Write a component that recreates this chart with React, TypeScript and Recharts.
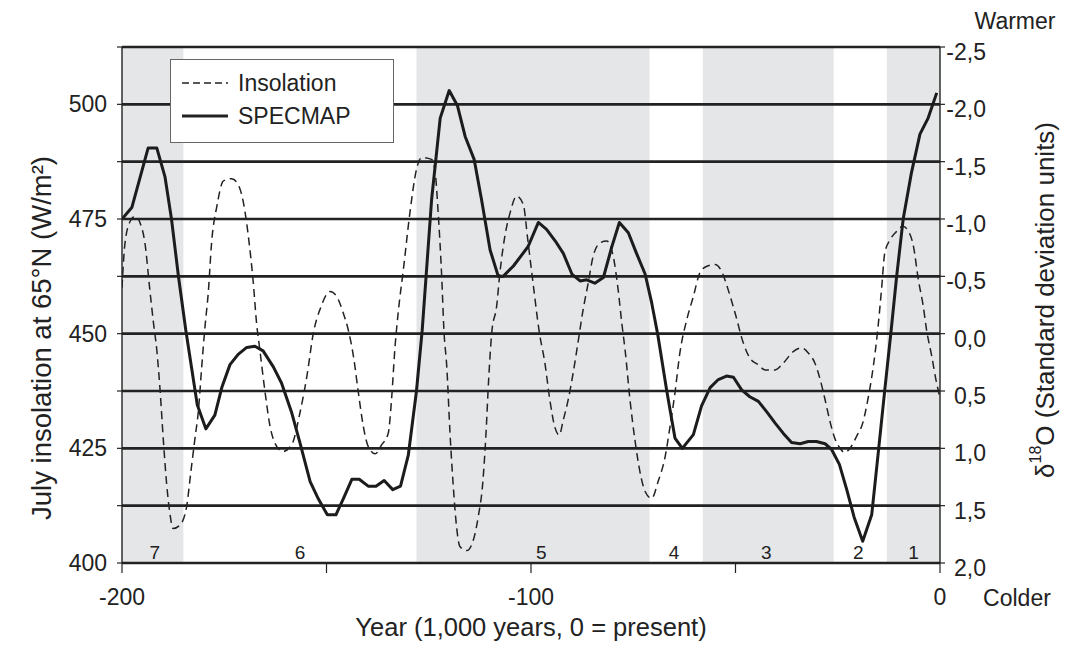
import React from "react";
import {
  ComposedChart,
  Line,
  XAxis,
  YAxis,
  ReferenceArea,
  ReferenceLine,
  Legend,
} from "recharts";

const FONT = "'Liberation Sans', Arial, Helvetica, sans-serif";
const INK = "#222";
const TICK_SIZE = 23;
const TITLE_SIZE = 25.5;

// Marine isotope stages, kyr (0 = present)
const stageNames = ["7", "6", "5", "4", "3", "2", "1"];
const stageStarts = [-200, -185, -128, -71, -58, -26, -13];
const stageEnds = [-185, -128, -71, -58, -26, -13, 0];
const stageShaded = [true, false, true, false, true, false, true];
const stageLabelAt = [-192, -156.5, -97.5, -65, -42.5, -20, -6.5];

// July insolation at 65°N, W/m²
const insolationYears = [
  -200, -199.3, -198, -196.8, -195.6, -194.4, -193.2, -192.3, -191.5, -190.7,
  -189.9, -189.1, -188.3, -187.5, -185.8, -184.2, -183.2, -182.2, -181.3, -180.5,
  -179.7, -178.9, -178.1, -176.8, -175.2, -173.2, -171.6, -170.3, -169.1, -167.9,
  -167.1, -166.3, -165.0, -163.8, -162.6, -160.7, -158.5, -156.5, -154.8, -153.2,
  -151.5, -149.1, -147.5, -145.9, -144.7, -143.4, -142.2, -141.0, -139.8, -138.1,
  -136.5, -134.9, -134.1, -133.3, -132.4, -131.2, -129.6, -128.0, -126.7, -124.3,
  -123.5, -122.7, -121.8, -121.3, -120.6, -119.8, -119.0, -118.2, -117.4, -115.7,
  -114.1, -112.9, -111.8, -111.0, -110.4, -109.6, -108.4, -107.6, -106.4, -105.1,
  -103.5, -101.9, -100.7, -99.4, -98.0, -96.6, -95.4, -94.1, -93.1, -92.1,
  -90.9, -89.7, -88.4, -87.4, -86.0, -84.8, -83.1, -81.5, -79.9, -78.7,
  -77.8, -77.0, -75.8, -74.6, -73.3, -72.1, -70.5, -68.9, -67.2, -66.0,
  -64.8, -63.6, -61.9, -60.3, -58.7, -57.0, -55.0, -53.4, -51.8, -50.1,
  -48.1, -46.5, -44.4, -42.8, -40.3, -38.3, -35.9, -33.8, -32.2, -30.6,
  -29.3, -28.1, -26.8, -25.6, -24.4, -23.4, -22.0, -20.4, -18.9, -17.5,
  -16.3, -15.3, -14.3, -13.5, -12.2, -10.6, -9.1, -7.7, -6.5, -5.3,
  -4.1, -3.3, -2.0, -1.0, 0,
];
const insolationValues = [
  460, 469.5, 474.5, 475.6, 474.2, 469.8, 459.6, 452.3, 446.5, 437.8,
  426.9, 417.4, 410.9, 407.5, 408.3, 412.3, 419.6, 426.9, 433.4, 442.9,
  451.6, 459.0, 469.8, 477.8, 483.3, 483.8, 482.5, 478.5, 471.2, 461.1,
  452.3, 446.5, 437.1, 429.8, 426.1, 424.3, 425.8, 432.7, 440.7, 450.2,
  455.5, 459.2, 458.1, 454.5, 450.9, 445.0, 437.1, 429.8, 425.4, 423.8,
  425.8, 428.3, 435.6, 446.5, 455.2, 464.0, 476.4, 485.8, 488.4, 488.0,
  485.8, 476.4, 461.8, 450.9, 442.9, 428.3, 416.7, 407.9, 403.6, 402.7,
  405.0, 410.1, 417.4, 428.3, 439.2, 450.2, 456.0, 463.3, 471.2, 476.4,
  480.0, 478.2, 469.8, 460.3, 450.5, 443.6, 435.6, 429.4, 427.9, 431.2,
  435.6, 441.4, 448.7, 454.5, 461.1, 466.9, 469.8, 470.2, 466.9, 459.6,
  452.3, 446.5, 435.6, 426.9, 419.6, 415.6, 414.1, 417.8, 423.2, 429.8,
  437.1, 445.8, 453.1, 458.1, 463.3, 464.7, 465.1, 463.6, 459.6, 454.5,
  448.0, 444.7, 443.2, 442.1, 442.1, 443.6, 446.1, 446.9, 445.8, 443.6,
  440.0, 435.6, 430.5, 426.9, 425.0, 424.1, 425.0, 427.6, 430.5, 436.3,
  442.9, 450.2, 459.6, 467.6, 470.5, 472.3, 473.4, 472.3, 469.1, 461.8,
  456.0, 450.9, 445.0, 440.0, 436.0,
];

// SPECMAP δ18O stack, standard deviation units
const specmapYears = [
  -200, -197.6, -193.6, -191.5, -189.5, -187.9, -186.2, -184.4, -181.6, -179.5,
  -177.3, -175.6, -173.6, -171.6, -169.5, -167.5, -165.5, -163.0, -161.0, -158.5,
  -156.5, -154.0, -152.0, -149.8, -147.7, -145.9, -143.8, -142.0, -139.8, -137.9,
  -135.9, -133.8, -131.9, -130.0, -128.0, -126.6, -124.3, -122.2, -120.0, -118.0,
  -116.1, -113.9, -112.1, -110.0, -108.0, -106.8, -104.3, -100.7, -98.2, -96.2,
  -94.1, -92.1, -90.0, -88.0, -86.4, -84.4, -82.3, -80.3, -78.4, -76.2,
  -74.2, -72.1, -70.5, -69.0, -66.8, -64.8, -63.0, -60.3, -58.3, -56.2,
  -54.2, -52.2, -50.5, -48.5, -46.5, -44.4, -42.4, -40.3, -38.3, -36.3,
  -34.2, -32.2, -30.2, -28.1, -26.5, -24.6, -22.8, -21.0, -18.9, -16.7,
  -15.1, -13.5, -12.0, -10.6, -9.0, -7.0, -4.9, -2.9, -0.8,
];
const specmapValues = [
  -1.0, -1.1, -1.62, -1.62, -1.37, -1.0, -0.5, -0.03, 0.62, 0.83,
  0.71, 0.47, 0.27, 0.18, 0.12, 0.11, 0.15, 0.29, 0.43, 0.69,
  0.95, 1.29, 1.44, 1.58, 1.58, 1.44, 1.27, 1.27, 1.33, 1.33,
  1.28, 1.36, 1.33, 1.06, 0.5, -0.03, -1.17, -1.88, -2.12, -1.99,
  -1.72, -1.52, -1.17, -0.73, -0.5, -0.5, -0.59, -0.76, -0.97, -0.91,
  -0.81, -0.7, -0.52, -0.46, -0.47, -0.44, -0.49, -0.75, -0.97, -0.88,
  -0.7, -0.52, -0.27, 0.01, 0.5, 0.91, 1.0, 0.88, 0.63, 0.47,
  0.4, 0.37, 0.38, 0.49, 0.55, 0.59, 0.68, 0.78, 0.87, 0.95,
  0.96, 0.94, 0.94, 0.96, 1.01, 1.14, 1.36, 1.6, 1.81, 1.58,
  1.04, 0.49, -0.01, -0.5, -1.0, -1.4, -1.74, -1.88, -2.1,
];

const xTicks = [-200, -150, -100, -50, 0];
const xLabelled = [-200, -100, 0];
const leftTicks = [400, 412.5, 425, 437.5, 450, 462.5, 475, 487.5, 500, 512.5];
const rightTicks = [-2.5, -2, -1.5, -1, -0.5, 0, 0.5, 1, 1.5, 2];

const insolation = insolationYears.map((year, i) => ({ year, value: insolationValues[i] }));
const specmap = specmapYears.map((year, i) => ({ year, value: specmapValues[i] }));

const decimalComma = (v: number) => v.toFixed(1).replace(".", ",");

const RightTick = (props: any) => {
  const { x, y, payload } = props;
  return (
    <text
      x={x + 37}
      y={y + 5}
      textAnchor="end"
      dominantBaseline="central"
      fontSize={TICK_SIZE}
      fontFamily={FONT}
      fill={INK}
    >
      {decimalComma(payload.value)}
    </text>
  );
};

const textStyle = { fontFamily: FONT, fill: INK };

const LeftTitle = () => (
  <text
    transform="translate(41,338) rotate(-90)"
    textAnchor="middle"
    dominantBaseline="central"
    fontSize={27.5}
    {...textStyle}
  >
    July insolation at 65°N (W/m²)
  </text>
);

const RightTitle = () => (
  <g>
    <text x={1015} y={21} textAnchor="middle" dominantBaseline="central" fontSize={23} {...textStyle}>
      Warmer
    </text>
    <text x={1017} y={598} textAnchor="middle" dominantBaseline="central" fontSize={23} {...textStyle}>
      Colder
    </text>
    <text
      transform="translate(1045,300) rotate(-90)"
      textAnchor="middle"
      dominantBaseline="central"
      fontSize={26}
      {...textStyle}
    >
      δ<tspan dy={-10} fontSize={16}>18</tspan>
      <tspan dy={10}>O (Standard deviation units)</tspan>
    </text>
  </g>
);

const BottomTitle = () => (
  <text x={531} y={627} textAnchor="middle" dominantBaseline="central" fontSize={TITLE_SIZE} {...textStyle}>
    Year (1,000 years, 0 = present)
  </text>
);

const legendRows = [
  { name: "Insolation", dash: "7 4", width: 1.5 },
  { name: "SPECMAP", dash: undefined, width: 3 },
];

const LegendBox = () => (
  <div
    style={{
      width: 224,
      height: 84,
      boxSizing: "border-box",
      border: "1.5px solid #666",
      background: "#fff",
      position: "relative",
      fontFamily: FONT,
      fontSize: 23,
      color: INK,
    }}
  >
    {legendRows.map((row, i) => (
      <div
        key={row.name}
        style={{
          position: "absolute",
          left: 11,
          top: 9 + i * 33,
          height: 28,
          display: "flex",
          alignItems: "center",
        }}
      >
        <svg width={46} height={6} style={{ marginRight: 10 }}>
          <line x1={0} y1={3} x2={46} y2={3} stroke={INK} strokeWidth={row.width} strokeDasharray={row.dash} />
        </svg>
        <span>{row.name}</span>
      </div>
    ))}
  </div>
);

export default function App() {
  return (
    <div style={{ position: "absolute", left: 0, top: 0 }}>
      <ComposedChart width={1081} height={651} margin={{ top: 47, right: 81, bottom: 48, left: 62 }}>
        <XAxis
          type="number"
          dataKey="year"
          domain={[-200, 0]}
          ticks={xTicks}
          tickFormatter={(v: number) => (xLabelled.includes(v) ? String(v) : "")}
          height={40}
          tickSize={10}
          tickMargin={16}
          axisLine={{ stroke: INK, strokeWidth: 2.6 }}
          tickLine={{ stroke: INK, strokeWidth: 1.2 }}
          tick={{ fontSize: TICK_SIZE, fontFamily: FONT, fill: INK }}
          allowDataOverflow
          label={<BottomTitle />}
        />
        <YAxis
          yAxisId="left"
          type="number"
          domain={[400, 512.5]}
          ticks={leftTicks}
          tickFormatter={(v: number) => (v % 25 === 0 ? String(v) : "")}
          width={60}
          tickSize={5}
          tickMargin={10}
          axisLine={{ stroke: INK, strokeWidth: 1.4 }}
          tickLine={{ stroke: INK, strokeWidth: 1.2 }}
          tick={{ fontSize: TICK_SIZE, fontFamily: FONT, fill: INK }}
          allowDataOverflow
          label={<LeftTitle />}
        />
        <YAxis
          yAxisId="right"
          orientation="right"
          type="number"
          domain={[-2.5, 2]}
          reversed
          ticks={rightTicks}
          width={60}
          tickSize={5}
          tickMargin={4}
          axisLine={{ stroke: INK, strokeWidth: 1.4 }}
          tickLine={{ stroke: INK, strokeWidth: 1.2 }}
          tick={<RightTick />}
          allowDataOverflow
          label={<RightTitle />}
        />

        {stageNames.map((name, i) =>
          stageShaded[i] ? (
            <ReferenceArea
              key={`band-${name}`}
              yAxisId="left"
              x1={stageStarts[i]}
              x2={stageEnds[i]}
              fill="#e5e6e8"
              fillOpacity={1}
              stroke="none"
            />
          ) : null
        )}

        {leftTicks.slice(1).map((v) => (
          <ReferenceLine key={`grid-${v}`} yAxisId="left" y={v} stroke={INK} strokeWidth={2.6} />
        ))}

        {stageNames.map((name, i) => (
          <ReferenceLine
            key={`stage-${name}`}
            yAxisId="left"
            x={stageLabelAt[i]}
            stroke="none"
            label={{ value: name, position: "insideBottom", offset: 4, fontSize: 19, fontFamily: FONT, fill: INK }}
          />
        ))}

        <Line
          yAxisId="left"
          data={insolation}
          dataKey="value"
          name="Insolation"
          type="monotone"
          stroke={INK}
          strokeWidth={1.5}
          strokeDasharray="8 5"
          dot={false}
          activeDot={false}
          isAnimationActive={false}
        />
        <Line
          yAxisId="right"
          data={specmap}
          dataKey="value"
          name="SPECMAP"
          type="linear"
          stroke="#1c1c1c"
          strokeWidth={3}
          strokeLinejoin="round"
          dot={false}
          activeDot={false}
          isAnimationActive={false}
        />

        <Legend
          layout="vertical"
          align="center"
          verticalAlign="middle"
          wrapperStyle={{ left: 170, top: 59, width: 224, height: 84 }}
          content={<LegendBox />}
        />
      </ComposedChart>
    </div>
  );
}
